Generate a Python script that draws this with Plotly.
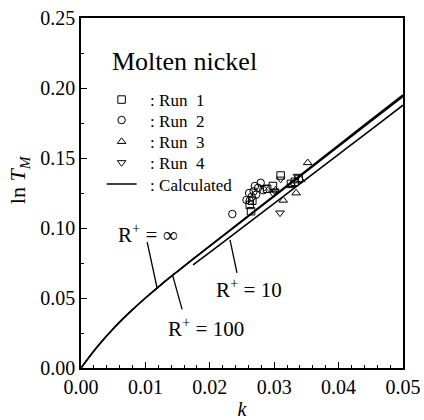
import plotly.graph_objects as go

# ---- data ----
k_inf = [0, 0.0025, 0.005, 0.0075, 0.01, 0.0125, 0.015, 0.0175, 0.02, 0.025, 0.03, 0.035, 0.04, 0.045, 0.05]
lnT_inf = [0, 0.015, 0.028, 0.0395, 0.05, 0.0598, 0.0691, 0.0783, 0.0873, 0.1052, 0.1232, 0.1412, 0.1592, 0.1772, 0.1950]
k_100 = [0, 0.0025, 0.005, 0.0075, 0.01, 0.0125, 0.015, 0.0175, 0.02, 0.025, 0.03, 0.035, 0.04, 0.045, 0.05]
lnT_100 = [0, 0.015, 0.028, 0.0395, 0.05, 0.0598, 0.0690, 0.0781, 0.0870, 0.1048, 0.1226, 0.1405, 0.1583, 0.1762, 0.1940]
k_10 = [0.0174, 0.02, 0.025, 0.03, 0.035, 0.04, 0.045, 0.05]
lnT_10 = [0.0736, 0.0826, 0.1001, 0.1176, 0.1351, 0.1526, 0.1701, 0.1877]

run1_k = [0.0262, 0.0264, 0.0266, 0.0289, 0.0298, 0.0310, 0.0326, 0.0332, 0.0338]
run1_y = [0.1165, 0.1120, 0.1195, 0.1280, 0.1300, 0.1375, 0.1315, 0.1330, 0.1350]
run2_k = [0.0235, 0.0257, 0.0261, 0.0265, 0.0268, 0.0272, 0.0275, 0.0279, 0.0262, 0.0270, 0.0283]
run2_y = [0.1100, 0.1200, 0.1250, 0.1222, 0.1262, 0.1238, 0.1287, 0.1323, 0.1195, 0.1300, 0.1270]
run3_k = [0.0314, 0.0334, 0.0327, 0.0341, 0.0352, 0.0302]
run3_y = [0.1198, 0.1250, 0.1310, 0.1345, 0.1466, 0.1270]
run4_k = [0.0298, 0.0309, 0.0310, 0.0301, 0.0336, 0.0285]
run4_y = [0.1250, 0.1108, 0.1350, 0.1265, 0.1370, 0.1290]

x_ticks = [0.00, 0.01, 0.02, 0.03, 0.04, 0.05]
y_ticks = [0.00, 0.05, 0.10, 0.15, 0.20, 0.25]

FONT = "Liberation Serif"
fig = go.Figure()

line_style = dict(color="black", width=1.6)
fig.add_trace(go.Scatter(x=k_inf, y=lnT_inf, mode="lines", line=line_style,
                         line_shape="spline", name="  : Calculated", legend="legend5"))
fig.add_trace(go.Scatter(x=k_100, y=lnT_100, mode="lines", line=line_style,
                         line_shape="spline", showlegend=False))
fig.add_trace(go.Scatter(x=k_10, y=lnT_10, mode="lines", line=line_style,
                         line_shape="spline", showlegend=False))

runs = [(run1_k, run1_y, "square-open", "  : Run  1"),
        (run2_k, run2_y, "circle-open", "  : Run  2"),
        (run3_k, run3_y, "triangle-up-open", "  : Run  3"),
        (run4_k, run4_y, "triangle-down-open", "  : Run  4")]
legend_ids = ["legend", "legend2", "legend3", "legend4"]
for (kx, ky, sym, nm), lid in zip(runs, legend_ids):
    fig.add_trace(go.Scatter(x=kx, y=ky, mode="markers", name=nm, legend=lid,
                             marker=dict(symbol=sym, size=7.5, color="black",
                                         line=dict(color="black", width=1))))

# leader lines for curve labels
leaders = [((0.01027, 0.0900), (0.01180, 0.0575)),   # R+ = inf
           ((0.01570, 0.0419), (0.01424, 0.0660)),   # R+ = 100
           ((0.02422, 0.0679), (0.02314, 0.0915))]   # R+ = 10
for (x0, y0), (x1, y1) in leaders:
    fig.add_shape(type="line", x0=x0, y0=y0, x1=x1, y1=y1, xref="x", yref="y",
                  line=dict(color="black", width=1.3))

ann_font = dict(family=FONT, size=21, color="black")
fig.add_annotation(x=0.0104, y=0.0964, text="R<sup>+</sup> = ∞", showarrow=False, font=ann_font)
fig.add_annotation(x=0.0194, y=0.0286, text="R<sup>+</sup> = 100", showarrow=False, font=ann_font)
fig.add_annotation(x=0.0261, y=0.0571, text="R<sup>+</sup> = 10", showarrow=False, font=ann_font)
fig.add_annotation(x=0.0045, y=0.219, text="Molten nickel", showarrow=False, xanchor="left",
                   font=dict(family=FONT, size=26, color="black"))
# y-axis title (placed like the reference, slightly above centre)
fig.add_annotation(xref="paper", yref="paper", x=-0.242, y=0.537, textangle=-90,
                   text="ln <i>T</i><sub><i>M</i></sub>", showarrow=False,
                   font=dict(family=FONT, size=22, color="black"))

# one legend per entry so that the row spacing matches the reference
legend_rows_px = [100, 120.5, 142, 163, 184.5]
legend_keys = ["legend", "legend2", "legend3", "legend4", "legend5"]
legend_layout = {}
for key, ypx in zip(legend_keys, legend_rows_px):
    legend_layout[key] = dict(x=0.064, y=(368 - ypx) / 350, xanchor="left", yanchor="middle",
                              bgcolor="rgba(0,0,0,0)", font=dict(family=FONT, size=17),
                              itemwidth=30, borderwidth=0)

fig.update_layout(
    width=424, height=420,
    margin=dict(l=81, r=21, t=18, b=52),
    paper_bgcolor="white", plot_bgcolor="white",
    font=dict(family=FONT, size=20, color="black"),
    showlegend=True,
    **legend_layout,
    xaxis=dict(range=[0, 0.05], tickvals=x_ticks, ticktext=[f"{v:.2f}" for v in x_ticks],
               ticks="inside", ticklen=6, tickwidth=1.2, tickcolor="black",
               minor=dict(dtick=0.002, ticks="inside", ticklen=3, tickcolor="black"),
               showline=True, linecolor="black", linewidth=1.5, mirror=True,
               showgrid=False, zeroline=False, automargin=False,
               title=dict(text="<i>k</i>", font=dict(family=FONT, size=20), standoff=8)),
    yaxis=dict(range=[0, 0.25], tickvals=y_ticks, ticktext=[f"{v:.2f}" for v in y_ticks],
               ticks="inside", ticklen=6, tickwidth=1.2, tickcolor="black",
               minor=dict(dtick=0.025, ticks="inside", ticklen=3, tickcolor="black"),
               showline=True, linecolor="black", linewidth=1.5, mirror=True,
               showgrid=False, zeroline=False, automargin=False),
)

fig.write_html("out.html")
